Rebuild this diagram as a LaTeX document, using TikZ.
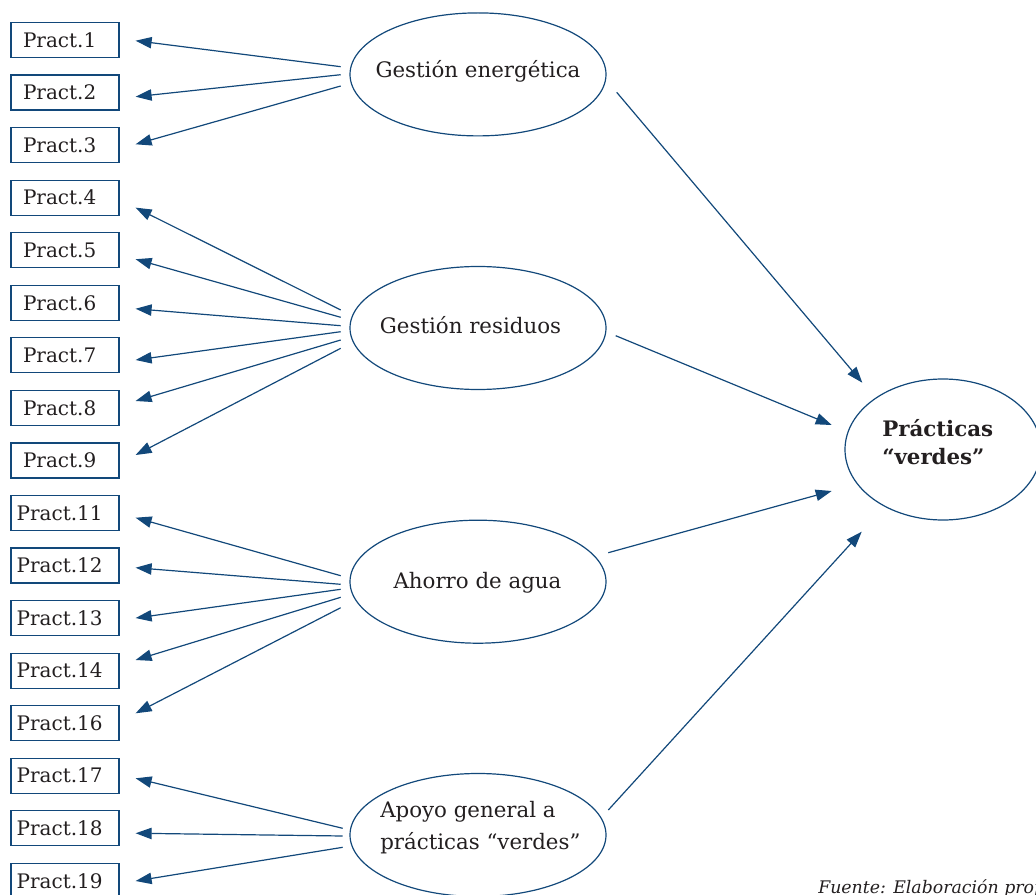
\documentclass[tikz,border=0pt]{standalone}
\usepackage{fontspec}
\setmainfont{DejaVu Serif}
\usetikzlibrary{arrows.meta,calc,shapes.geometric}
\definecolor{lineblue}{HTML}{12487A}
\definecolor{txt}{HTML}{231F20}
\begin{document}
\begin{tikzpicture}[x=0.75pt,y=-0.75pt,
  pbox/.style={draw=lineblue,line width=0.9pt,minimum width=81pt,minimum height=26.25pt,inner sep=0pt,text=txt,font=\fontsize{15}{18}\selectfont,execute at end node={\hspace{8pt}}},
  lat/.style={draw=lineblue,line width=0.9pt,ellipse,minimum width=192pt,minimum height=92.25pt,inner sep=0pt},
  lbl/.style={text=txt,font=\fontsize{16}{19}\selectfont,inner sep=0pt},
  arr/.style={draw=lineblue,line width=0.9pt,-{Triangle[length=12pt,width=8.5pt]}}]
\useasboundingbox (0,0) rectangle (1036,895);
\clip (0,0) rectangle (1036,895);
% indicator boxes
\node[pbox] (p1) at (65,40) {Pract.1};
\node[pbox] (p2) at (65,92.55) {Pract.2};
\node[pbox] (p3) at (65,145.1) {Pract.3};
\node[pbox] (p4) at (65,197.65) {Pract.4};
\node[pbox] (p5) at (65,250.2) {Pract.5};
\node[pbox] (p6) at (65,302.75) {Pract.6};
\node[pbox] (p7) at (65,355.3) {Pract.7};
\node[pbox] (p8) at (65,407.85) {Pract.8};
\node[pbox] (p9) at (65,460.4) {Pract.9};
\node[pbox] (p11) at (65,512.95) {Pract.11};
\node[pbox] (p12) at (65,565.5) {Pract.12};
\node[pbox] (p13) at (65,618.05) {Pract.13};
\node[pbox] (p14) at (65,670.6) {Pract.14};
\node[pbox] (p16) at (65,723.15) {Pract.16};
\node[pbox] (p17) at (65,775.7) {Pract.17};
\node[pbox] (p18) at (65,828.25) {Pract.18};
\node[pbox] (p19) at (65,880.8) {Pract.19};
% latent ellipses
\node[lat] (e1) at (478,74.4) {};
\node[lat] (e2) at (478,328) {};
\node[lat] (e3) at (478,581.7) {};
\node[lat] (e4) at (478,835) {};
\node[lat,minimum width=147pt,minimum height=105.75pt] (R) at (943,449.5) {};
% labels
\node[lbl,anchor=base] (t1) at (478,77.7) {Gestión energética};
\node[lbl,anchor=base] (t2) at (470.5,333.3) {Gestión residuos};
\node[lbl,anchor=base] (t3) at (477.5,588.3) {Ahorro de agua};
\node[lbl,anchor=north west,align=left,font=\fontsize{16}{23.7}\selectfont] (t4) at (380,801) {Apoyo general a\\prácticas “verdes”};
\node[lbl,anchor=north west,align=left,font=\fontsize{16}{20.8}\selectfont\bfseries] (tR) at (882,419) {Prácticas\\“verdes”};
\node[lbl,anchor=base west,font=\fontsize{13}{15}\selectfont\itshape] (src) at (818,893) {Fuente: Elaboración propia};
% arrows to indicators
\foreach \p/\dy/\sy in {p1/0.7/-7.7, p2/4.15/0.3, p3/-0.8/11.6}
  \draw[arr] ($(e1.center)+(-137.3,\sy)$) -- ($(\p.east)+(16,\dy)$);
\foreach \p/\dy/\sy in {p4/10/-18, p5/9/-10.7, p6/6/-2.3, p7/4.7/3.7, p8/-6.85/12, p9/-5.4/20.3}
  \draw[arr] ($(e2.center)+(-137.3,\sy)$) -- ($(\p.east)+(16,\dy)$);
\foreach \p/\dy/\sy in {p11/4.75/-6, p12/2.2/2.6, p13/0/7.6, p14/-10.6/15.6, p16/-9.85/26}
  \draw[arr] ($(e3.center)+(-137.3,\sy)$) -- ($(\p.east)+(16,\dy)$);
\foreach \p/\dy/\sy in {p17/2.6/-6.7, p18/5/1, p19/0.2/12.3}
  \draw[arr] ($(e4.center)+(-135.3,\sy)$) -- ($(\p.east)+(16,\dy)$);
% arrows to second-order factor
\draw[arr] ($(e1.center)+(138.7,17.9)$) -- ($(R.center)+(-80.7,-66.8)$);
\draw[arr] ($(e2.center)+(137.7,7.7)$) -- ($(R.center)+(-111.3,-24.5)$);
\draw[arr] ($(e3.center)+(130.3,-29)$) -- ($(R.center)+(-111.3,41.5)$);
\draw[arr] ($(e4.center)+(130.3,-25)$) -- ($(R.center)+(-81.3,82.2)$);
\end{tikzpicture}
\end{document}
